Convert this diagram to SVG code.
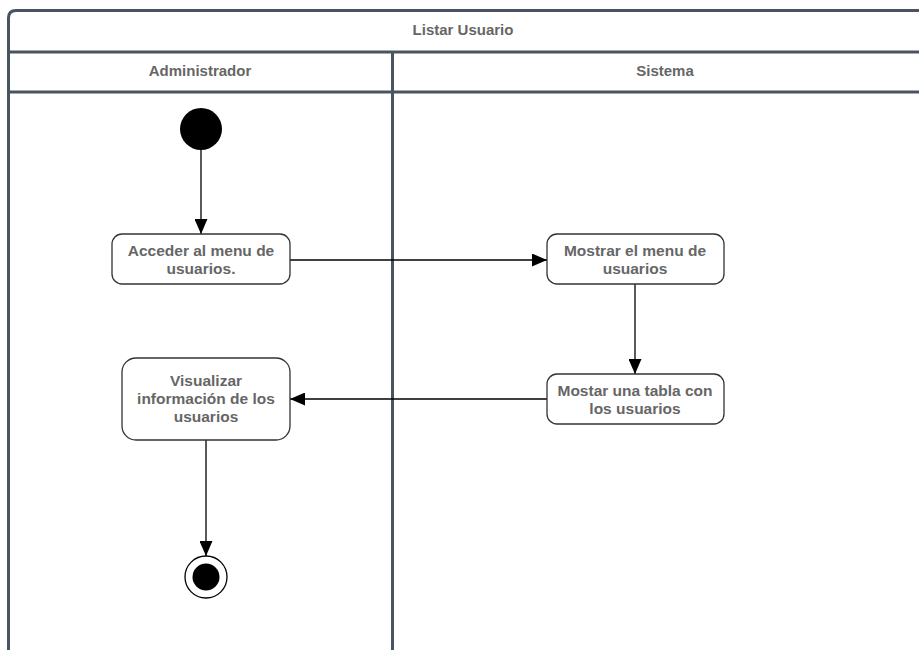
<svg xmlns="http://www.w3.org/2000/svg" width="919" height="650" viewBox="0 0 919 650">
  <style>
    .lane { fill: none; stroke: #4a5360; stroke-width: 3; }
    .act { fill: #ffffff; stroke: #333333; stroke-width: 1.3; }
    .lbl { font-family: "Liberation Sans", Arial, sans-serif; font-size: 15.5px; font-weight: bold; fill: #666666; text-anchor: middle; }
    .hdr { font-size: 15px; }
    .flow { fill: none; stroke: #000000; stroke-width: 1.3; }
  </style>
  <defs>
    <marker id="arrow" viewBox="0 0 10 10" refX="10" refY="5" markerWidth="15" markerHeight="13" markerUnits="userSpaceOnUse" orient="auto" preserveAspectRatio="none">
      <path d="M0,0 L10,5 L0,10 Z" fill="#000000"/>
    </marker>
  </defs>
  <rect width="919" height="650" fill="#ffffff"/>

  <!-- swimlane frame -->
  <g id="pool">
    <path class="lane" d="M8.5,660 L8.5,18 Q8.5,10.5 16,10.5 L925,10.5"/>
    <line class="lane" x1="8.5" y1="52" x2="925" y2="52"/>
    <line class="lane" x1="8.5" y1="92" x2="925" y2="92"/>
    <line class="lane" x1="392.5" y1="52" x2="392.5" y2="660"/>
    <text class="lbl hdr" x="463" y="35">Listar Usuario</text>
    <text class="lbl hdr" x="200" y="76">Administrador</text>
    <text class="lbl hdr" x="665" y="76">Sistema</text>
  </g>

  <!-- connectors -->
  <g id="flows">
    <line class="flow" x1="201" y1="150" x2="201" y2="234" marker-end="url(#arrow)"/>
    <line class="flow" x1="290" y1="260" x2="547" y2="260" marker-end="url(#arrow)"/>
    <line class="flow" x1="635" y1="284" x2="635" y2="374" marker-end="url(#arrow)"/>
    <line class="flow" x1="547" y1="399" x2="290" y2="399" marker-end="url(#arrow)"/>
    <line class="flow" x1="206" y1="440" x2="206" y2="556" marker-end="url(#arrow)"/>
  </g>

  <g id="start">
    <circle cx="201" cy="129" r="21" fill="#000000"/>
  </g>

  <g id="acceder">
    <rect class="act" x="112" y="234" width="178" height="50" rx="10"/>
    <text class="lbl" x="201" y="256">Acceder al menu de</text>
    <text class="lbl" x="201" y="274">usuarios.</text>
  </g>

  <g id="mostrar-menu">
    <rect class="act" x="547" y="234" width="177" height="50" rx="10"/>
    <text class="lbl" x="635" y="256">Mostrar el menu de</text>
    <text class="lbl" x="635" y="274">usuarios</text>
  </g>

  <g id="mostrar-tabla">
    <rect class="act" x="547" y="374" width="177" height="50" rx="10"/>
    <text class="lbl" x="635" y="396">Mostar una tabla con</text>
    <text class="lbl" x="635" y="414">los usuarios</text>
  </g>

  <g id="visualizar">
    <rect class="act" x="122" y="358" width="168" height="82" rx="14"/>
    <text class="lbl" x="206" y="386">Visualizar</text>
    <text class="lbl" x="206" y="404">información de los</text>
    <text class="lbl" x="206" y="422">usuarios</text>
  </g>

  <g id="end">
    <circle cx="206" cy="577" r="21" fill="#ffffff" stroke="#000000" stroke-width="1.3"/>
    <circle cx="206" cy="577" r="13.5" fill="#000000"/>
  </g>
</svg>
